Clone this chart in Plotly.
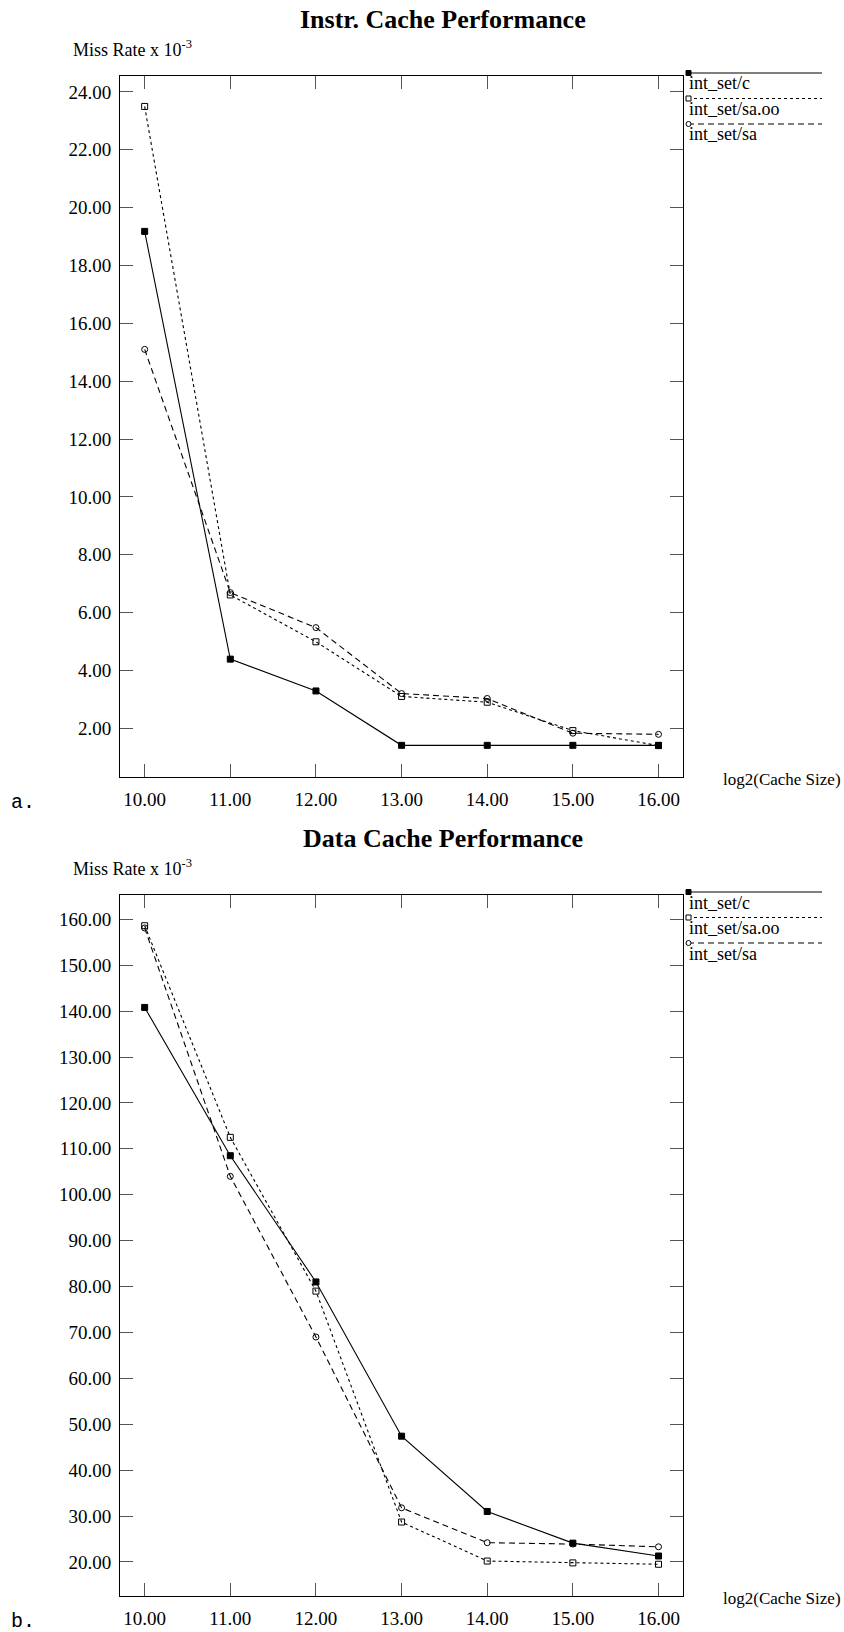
import plotly.graph_objects as go

W, H = 844, 1632

# ---- data ----
cache_log2 = [10, 11, 12, 13, 14, 15, 16]
series_names = ["int_set/c", "int_set/sa.oo", "int_set/sa"]

instr_c = [19.18, 4.39, 3.29, 1.41, 1.41, 1.41, 1.41]
instr_sa_oo = [23.50, 6.61, 4.99, 3.10, 2.90, 1.92, 1.40]
instr_sa = [15.10, 6.69, 5.48, 3.20, 3.03, 1.83, 1.79]

data_c = [140.8, 108.5, 81.0, 47.4, 31.0, 24.1, 21.3]
data_sa_oo = [158.6, 112.5, 79.0, 28.7, 20.2, 19.8, 19.5]
data_sa = [158.1, 104.0, 69.0, 31.8, 24.2, 23.9, 23.3]

instr_yticks = [2, 4, 6, 8, 10, 12, 14, 16, 18, 20, 22, 24]
data_yticks = [20, 30, 40, 50, 60, 70, 80, 90, 100, 110, 120, 130, 140, 150, 160]

titles = ["Instr. Cache Performance", "Data Cache Performance"]
panel_labels = ["a.", "b."]
y_title = "Miss Rate x 10<sup>-3</sup>"
x_title = "log2(Cache Size)"

# ---- helpers ----
def px(x):
    return x / W

def py(y):
    return 1 - y / H

SERIF = "Liberation Serif"

styles = [
    dict(dash="solid", symbol="square", msize=6),
    dict(dash="dot", symbol="square-open", msize=6),
    dict(dash="6px,4px", symbol="circle-open", msize=6),
]

fig = go.Figure()

panels = [
    dict(series=[instr_c, instr_sa_oo, instr_sa], top=75.5, bottom=777.0,
         yrange=[0.315, 24.57], yticks=instr_yticks, xa="x", ya="y"),
    dict(series=[data_c, data_sa_oo, data_sa], top=894.5, bottom=1596.3,
         yrange=[12.52, 165.4], yticks=data_yticks, xa="x2", ya="y2"),
]

x_left, x_right = 120.0, 683.0
xrange_ = [9.712, 16.286]

shapes = []
annotations = []

for i, p in enumerate(panels):
    for s, vals in enumerate(p["series"]):
        st = styles[s]
        fig.add_trace(go.Scatter(
            x=cache_log2, y=vals, mode="lines+markers", name=series_names[s],
            xaxis=p["xa"], yaxis=p["ya"], showlegend=False,
            line=dict(color="black", width=1.1, dash=st["dash"]),
            marker=dict(symbol=st["symbol"], size=st["msize"], color="black",
                        line=dict(color="black", width=1)),
            cliponaxis=False,
        ))

    dom_y = [py(p["bottom"]), py(p["top"])]
    axis_common = dict(
        showgrid=False, zeroline=False, showline=True, linecolor="black",
        linewidth=1, mirror="ticks", ticks="inside", ticklen=13,
        tickcolor="#555555", tickwidth=1.2,
        tickfont=dict(family=SERIF, size=19, color="black"),
        tickformat=".2f",
    )
    xkey = "xaxis" if i == 0 else "xaxis2"
    ykey = "yaxis" if i == 0 else "yaxis2"
    fig.update_layout(**{
        xkey: dict(axis_common, domain=[px(x_left), px(x_right)], range=xrange_,
                   tickmode="array", tickvals=cache_log2,
                   anchor=p["ya"], ticklabelstandoff=5),
        ykey: dict(axis_common, domain=dom_y, range=p["yrange"],
                   tickmode="array", tickvals=p["yticks"],
                   anchor=p["xa"], ticklabelstandoff=4),
    })

    title_y = p["top"] - 56
    annotations.append(dict(text=f"<b>{titles[i]}</b>", x=px(443), y=py(title_y),
                            xref="paper", yref="paper", showarrow=False,
                            xanchor="center", yanchor="middle",
                            font=dict(family=SERIF, size=26, color="black")))
    miss_y = p["top"] - 27
    annotations.append(dict(text=y_title, x=px(71), y=py(miss_y),
                            xref="paper", yref="paper", showarrow=False,
                            xanchor="left", yanchor="middle",
                            font=dict(family=SERIF, size=18, color="black")))
    annotations.append(dict(text=x_title, x=px(843), y=py(p["bottom"] + 2),
                            xref="paper", yref="paper", showarrow=False,
                            xanchor="right", yanchor="middle",
                            font=dict(family=SERIF, size=17, color="black")))
    annotations.append(dict(text=panel_labels[i], x=px(9), y=py(p["bottom"] + 25),
                            xref="paper", yref="paper", showarrow=False,
                            xanchor="left", yanchor="middle",
                            font=dict(family="Liberation Mono", size=20, color="black")))

    for s in range(3):
        ly = p["top"] - 2.5 + s * 25.5
        st = styles[s]
        shapes.append(dict(type="line", xref="paper", yref="paper",
                           x0=px(688), x1=px(822), y0=py(ly), y1=py(ly),
                           line=dict(color="black", width=1.1, dash=st["dash"])))
        kind = "circle" if s == 2 else "rect"
        fill = "black" if s == 0 else "white"
        shapes.append(dict(type=kind, xref="paper", yref="paper",
                           x0=px(686), x1=px(691), y0=py(ly - 2.5), y1=py(ly + 2.5),
                           fillcolor=fill, line=dict(color="black", width=1)))
        annotations.append(dict(text=series_names[s], x=px(687), y=py(ly + 10.5),
                                xref="paper", yref="paper", showarrow=False,
                                xanchor="left", yanchor="middle",
                                font=dict(family=SERIF, size=18, color="black")))

fig.update_layout(
    width=W, height=H, margin=dict(l=0, r=0, t=0, b=0),
    paper_bgcolor="white", plot_bgcolor="white",
    showlegend=False, shapes=shapes, annotations=annotations,
)

fig.write_html("out.html", config={"displayModeBar": False},
               post_script="document.body.style.margin='0';document.body.style.overflow='hidden';")
